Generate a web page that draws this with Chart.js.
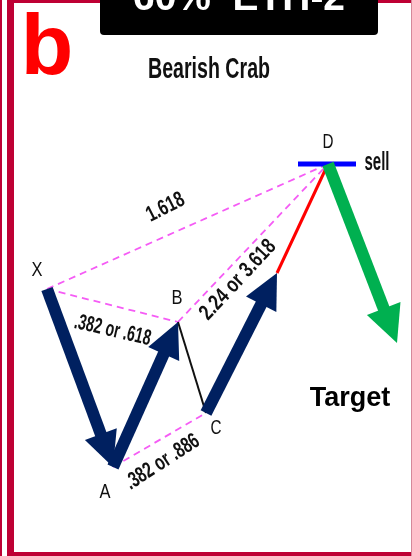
<!DOCTYPE html>
<html>
<head>
<meta charset="utf-8">
<script src="https://cdn.jsdelivr.net/npm/chart.js@4"></script>
<style>
  html, body { margin: 0; padding: 0; background: #fff; }
  canvas { display: block; }
</style>
</head>
<body>
<canvas id="crab" width="412" height="556"></canvas>
<script>
// pattern pivots, x = time, y = price
const pivotNames = ["X", "A", "B", "C", "D"];
const pivotTime = [47, 113, 178, 206, 328];
const pivotPrice = [267, 89, 234, 143, 392];

// end of the navy C leg, where the red run into D starts
const cdBreakTime = 277;
const cdBreakPrice = 283;

// sell level drawn at D
const sellFromTime = 298;
const sellToTime = 356;

// target leg after D
const targetTime = 397;
const targetPrice = 213;

const ratioLabels = ["1.618", ".382 or .618", "2.24 or 3.618", ".382 or .886"];

const NAVY = "#002060";
const GREEN = "#00b050";
const PINK = "#f55cf5";
const CRIMSON = "#be0034";

function pt(i) {
  return { x: pivotTime[i], y: pivotPrice[i] };
}

function dashed(a, b) {
  return {
    data: [pt(a), pt(b)],
    borderColor: PINK,
    borderWidth: 1.8,
    borderDash: [7, 5],
    order: 5,
  };
}

const datasets = [
  dashed(0, 4),
  dashed(0, 2),
  dashed(2, 4),
  dashed(1, 3),
  {
    data: [pt(2), pt(3)],
    borderColor: "#111",
    borderWidth: 2,
    order: 4,
  },
  {
    data: [{ x: cdBreakTime, y: cdBreakPrice }, pt(4)],
    borderColor: "#ff0000",
    borderWidth: 3,
    order: 4,
  },
  {
    data: [{ x: sellFromTime, y: pivotPrice[4] }, { x: sellToTime, y: pivotPrice[4] }],
    borderColor: "#0000ff",
    borderWidth: 5,
    order: 3,
  },
  {
    data: [pt(0), pt(1)],
    borderColor: NAVY,
    borderWidth: 12,
    head: { len: 35, half: 17 },
    order: 1,
  },
  {
    data: [pt(1), pt(2)],
    borderColor: NAVY,
    borderWidth: 12,
    head: { len: 35, half: 17 },
    order: 1,
  },
  {
    data: [pt(3), { x: cdBreakTime, y: cdBreakPrice }],
    borderColor: NAVY,
    borderWidth: 12,
    head: { len: 35, half: 17 },
    order: 1,
  },
  {
    data: [pt(4), { x: targetTime, y: targetPrice }],
    borderColor: GREEN,
    borderWidth: 12,
    head: { len: 37, half: 18 },
    order: 1,
  },
];

function headGeometry(meta, head) {
  const s = meta.data[0];
  const e = meta.data[meta.data.length - 1];
  const len = Math.hypot(e.x - s.x, e.y - s.y);
  const dx = (e.x - s.x) / len;
  const dy = (e.y - s.y) / len;
  return {
    tx: e.x,
    ty: e.y,
    dx,
    dy,
    px: -dy,
    py: dx,
    bx: e.x - dx * head.len,
    by: e.y - dy * head.len,
  };
}

// shafts stop at the arrow head base, then the head is filled on top
const arrowHeads = {
  id: "arrowHeads",
  beforeDatasetDraw(chart, args) {
    const ds = chart.data.datasets[args.index];
    if (!ds.head) return;
    const g = headGeometry(args.meta, ds.head);
    const ctx = chart.ctx;
    const far = 2000;
    const cx = g.bx + g.dx;
    const cy = g.by + g.dy;
    ctx.save();
    ctx.beginPath();
    ctx.moveTo(cx + g.px * far, cy + g.py * far);
    ctx.lineTo(cx - g.px * far, cy - g.py * far);
    ctx.lineTo(cx - g.px * far - g.dx * far, cy - g.py * far - g.dy * far);
    ctx.lineTo(cx + g.px * far - g.dx * far, cy + g.py * far - g.dy * far);
    ctx.closePath();
    ctx.clip();
  },
  afterDatasetDraw(chart, args) {
    const ds = chart.data.datasets[args.index];
    if (!ds.head) return;
    const ctx = chart.ctx;
    ctx.restore();
    const g = headGeometry(args.meta, ds.head);
    const w = ds.head.half;
    ctx.save();
    ctx.fillStyle = ds.borderColor;
    ctx.beginPath();
    ctx.moveTo(g.tx, g.ty);
    ctx.lineTo(g.bx + g.px * w, g.by + g.py * w);
    ctx.lineTo(g.bx - g.px * w, g.by - g.py * w);
    ctx.closePath();
    ctx.fill();
    ctx.restore();
  },
};

function drawText(ctx, text, x, y, o) {
  ctx.save();
  ctx.font = o.font;
  ctx.fillStyle = o.color || "#000";
  ctx.textAlign = "center";
  ctx.textBaseline = o.baseline || "middle";
  ctx.translate(x, y);
  if (o.angle) ctx.rotate((o.angle * Math.PI) / 180);
  if (o.width) {
    const m = ctx.measureText(text).width;
    ctx.scale(o.width / m, 1);
  }
  ctx.fillText(text, 0, 0);
  ctx.restore();
}

const frame = {
  id: "frame",
  beforeDraw(chart) {
    const ctx = chart.ctx;
    ctx.save();
    ctx.fillStyle = "#fff";
    ctx.fillRect(0, 0, 412, 556);
    ctx.fillStyle = CRIMSON;
    ctx.fillRect(0, 0, 2, 556);
    ctx.fillRect(7, 0, 7, 556);
    ctx.fillRect(7, 0, 405, 3);
    ctx.fillRect(7, 552, 405, 4);
    ctx.fillStyle = "#d6889a";
    ctx.fillRect(411, 0, 1, 556);

    ctx.fillStyle = "#000";
    ctx.beginPath();
    ctx.roundRect(100, -10, 278, 45, 4);
    ctx.fill();
    ctx.restore();

    drawText(ctx, "60%  ETH-2", 239, 10, {
      font: "bold 38px 'Liberation Sans', Arial, sans-serif",
      color: "#fff",
      baseline: "alphabetic",
      width: 212,
    });
    drawText(ctx, "b", 47, 74, {
      font: "bold 86px 'Liberation Sans', Arial, sans-serif",
      color: "#ff0000",
      baseline: "alphabetic",
    });
  },
  afterDraw(chart) {
    const ctx = chart.ctx;
    const xs = chart.scales.x;
    const ys = chart.scales.y;
    const px = (t) => xs.getPixelForValue(t);
    const py = (p) => ys.getPixelForValue(p);
    const narrow = "'Liberation Sans Narrow', 'Liberation Sans', Arial, sans-serif";

    drawText(ctx, "Bearish Crab", 209, 70, {
      font: "bold 29px " + narrow,
      width: 122,
      color: "#111",
    });

    const nameOffset = [[-10, -19], [-8, 25], [-1, -24], [10, 15], [0, -22]];
    pivotNames.forEach((name, i) => {
      drawText(ctx, name, px(pivotTime[i]) + nameOffset[i][0], py(pivotPrice[i]) + nameOffset[i][1], {
        font: "21px " + narrow,
        width: 11,
        color: "#111",
      });
    });

    drawText(ctx, "sell", px(sellToTime) + 21, py(pivotPrice[4]) - 1, {
      font: "bold 25px " + narrow,
      width: 25,
      color: "#111",
    });

    drawText(ctx, "Target", px(targetTime) - 47, py(targetPrice) + 56, {
      font: "bold 27px 'Liberation Sans', Arial, sans-serif",
      color: "#000",
    });

    // ratio labels sit beside the dashed legs they measure
    const legs = [[0, 4], [0, 2], [2, 4], [1, 3]];
    const shift = [[-22, -19], [0, 25], [-15, 37], [3, 22]];
    const angle = [-27, 13, -47, -33];
    const width = [40, 78, 101, 84];
    ratioLabels.forEach((label, k) => {
      const [a, b] = legs[k];
      const mx = (px(pivotTime[a]) + px(pivotTime[b])) / 2;
      const my = (py(pivotPrice[a]) + py(pivotPrice[b])) / 2;
      drawText(ctx, label, mx + shift[k][0], my + shift[k][1], {
        font: "bold 22px " + narrow,
        angle: angle[k],
        width: width[k],
        color: "#111",
      });
    });
  },
};

new Chart(document.getElementById("crab"), {
  type: "line",
  data: { datasets },
  options: {
    responsive: false,
    animation: false,
    devicePixelRatio: 1,
    events: [],
    layout: { padding: 0, autoPadding: false },
    elements: {
      point: { radius: 0, hoverRadius: 0 },
      line: { borderCapStyle: "butt", tension: 0 },
    },
    plugins: {
      legend: { display: false },
      tooltip: { enabled: false },
      title: { display: false },
    },
    scales: {
      x: { type: "linear", min: 0, max: 412, display: false },
      y: { type: "linear", min: 0, max: 556, display: false },
    },
  },
  plugins: [frame, arrowHeads],
});
</script>
</body>
</html>
